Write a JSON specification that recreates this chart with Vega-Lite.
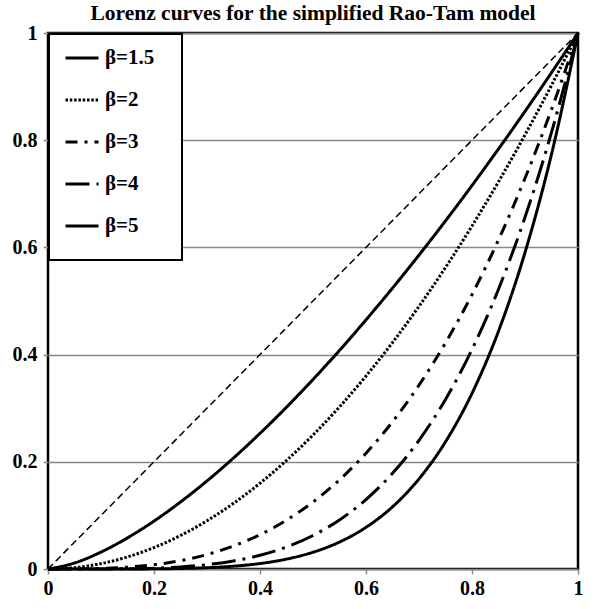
{
  "$schema": "https://vega.github.io/schema/vega-lite/v6.json",
  "width": 530,
  "height": 536,
  "autosize": {"type": "none"},
  "padding": {"left": 48, "top": 33, "right": 28, "bottom": 40},
  "background": "white",
  "title": {"text": "Lorenz curves for the simplified Rao-Tam model", "font": "Liberation Serif", "fontSize": 21.5, "fontWeight": "bold", "color": "black", "anchor": "middle", "offset": -1},
  "config": {
    "view": {"stroke": "black", "strokeWidth": 2.5},
    "axis": {"labelFont": "Liberation Serif", "labelFontSize": 20, "labelFontWeight": "bold", "labelColor": "black", "tickColor": "#888888", "tickSize": 5, "tickWidth": 1.5, "domain": false, "title": null, "labelFlush": false, "labelOverlap": false}
  },
  "datasets": {
    "diag": [{"p": 0, "L": 0}, {"p": 1, "L": 1}],
    "curves": [
      {"s": "β=1.5", "p": 0, "L": 0}, {"s": "β=1.5", "p": 0.05, "L": 0.0112}, {"s": "β=1.5", "p": 0.1, "L": 0.0316}, {"s": "β=1.5", "p": 0.15, "L": 0.0581}, {"s": "β=1.5", "p": 0.2, "L": 0.0894}, {"s": "β=1.5", "p": 0.25, "L": 0.125}, {"s": "β=1.5", "p": 0.3, "L": 0.1643}, {"s": "β=1.5", "p": 0.35, "L": 0.2071}, {"s": "β=1.5", "p": 0.4, "L": 0.253}, {"s": "β=1.5", "p": 0.45, "L": 0.3019}, {"s": "β=1.5", "p": 0.5, "L": 0.3536}, {"s": "β=1.5", "p": 0.55, "L": 0.4079}, {"s": "β=1.5", "p": 0.6, "L": 0.4648}, {"s": "β=1.5", "p": 0.65, "L": 0.5241}, {"s": "β=1.5", "p": 0.7, "L": 0.5857}, {"s": "β=1.5", "p": 0.75, "L": 0.6495}, {"s": "β=1.5", "p": 0.8, "L": 0.7155}, {"s": "β=1.5", "p": 0.85, "L": 0.7837}, {"s": "β=1.5", "p": 0.9, "L": 0.8538}, {"s": "β=1.5", "p": 0.95, "L": 0.926}, {"s": "β=1.5", "p": 1, "L": 1},
      {"s": "β=2", "p": 0, "L": 0}, {"s": "β=2", "p": 0.05, "L": 0.0025}, {"s": "β=2", "p": 0.1, "L": 0.01}, {"s": "β=2", "p": 0.15, "L": 0.0225}, {"s": "β=2", "p": 0.2, "L": 0.04}, {"s": "β=2", "p": 0.25, "L": 0.0625}, {"s": "β=2", "p": 0.3, "L": 0.09}, {"s": "β=2", "p": 0.35, "L": 0.1225}, {"s": "β=2", "p": 0.4, "L": 0.16}, {"s": "β=2", "p": 0.45, "L": 0.2025}, {"s": "β=2", "p": 0.5, "L": 0.25}, {"s": "β=2", "p": 0.55, "L": 0.3025}, {"s": "β=2", "p": 0.6, "L": 0.36}, {"s": "β=2", "p": 0.65, "L": 0.4225}, {"s": "β=2", "p": 0.7, "L": 0.49}, {"s": "β=2", "p": 0.75, "L": 0.5625}, {"s": "β=2", "p": 0.8, "L": 0.64}, {"s": "β=2", "p": 0.85, "L": 0.7225}, {"s": "β=2", "p": 0.9, "L": 0.81}, {"s": "β=2", "p": 0.95, "L": 0.9025}, {"s": "β=2", "p": 1, "L": 1},
      {"s": "β=3", "p": 0, "L": 0}, {"s": "β=3", "p": 0.05, "L": 0.0001}, {"s": "β=3", "p": 0.1, "L": 0.001}, {"s": "β=3", "p": 0.15, "L": 0.0034}, {"s": "β=3", "p": 0.2, "L": 0.008}, {"s": "β=3", "p": 0.25, "L": 0.0156}, {"s": "β=3", "p": 0.3, "L": 0.027}, {"s": "β=3", "p": 0.35, "L": 0.0429}, {"s": "β=3", "p": 0.4, "L": 0.064}, {"s": "β=3", "p": 0.45, "L": 0.0911}, {"s": "β=3", "p": 0.5, "L": 0.125}, {"s": "β=3", "p": 0.55, "L": 0.1664}, {"s": "β=3", "p": 0.6, "L": 0.216}, {"s": "β=3", "p": 0.65, "L": 0.2746}, {"s": "β=3", "p": 0.7, "L": 0.343}, {"s": "β=3", "p": 0.75, "L": 0.4219}, {"s": "β=3", "p": 0.8, "L": 0.512}, {"s": "β=3", "p": 0.85, "L": 0.6141}, {"s": "β=3", "p": 0.9, "L": 0.729}, {"s": "β=3", "p": 0.95, "L": 0.8574}, {"s": "β=3", "p": 1, "L": 1},
      {"s": "β=4", "p": 0, "L": 0}, {"s": "β=4", "p": 0.05, "L": 0}, {"s": "β=4", "p": 0.1, "L": 0.0001}, {"s": "β=4", "p": 0.15, "L": 0.0005}, {"s": "β=4", "p": 0.2, "L": 0.0016}, {"s": "β=4", "p": 0.25, "L": 0.0039}, {"s": "β=4", "p": 0.3, "L": 0.0081}, {"s": "β=4", "p": 0.35, "L": 0.015}, {"s": "β=4", "p": 0.4, "L": 0.0256}, {"s": "β=4", "p": 0.45, "L": 0.041}, {"s": "β=4", "p": 0.5, "L": 0.0625}, {"s": "β=4", "p": 0.55, "L": 0.0915}, {"s": "β=4", "p": 0.6, "L": 0.1296}, {"s": "β=4", "p": 0.65, "L": 0.1785}, {"s": "β=4", "p": 0.7, "L": 0.2401}, {"s": "β=4", "p": 0.75, "L": 0.3164}, {"s": "β=4", "p": 0.8, "L": 0.4096}, {"s": "β=4", "p": 0.85, "L": 0.522}, {"s": "β=4", "p": 0.9, "L": 0.6561}, {"s": "β=4", "p": 0.95, "L": 0.8145}, {"s": "β=4", "p": 1, "L": 1},
      {"s": "β=5", "p": 0, "L": 0}, {"s": "β=5", "p": 0.05, "L": 0}, {"s": "β=5", "p": 0.1, "L": 0}, {"s": "β=5", "p": 0.15, "L": 0.0001}, {"s": "β=5", "p": 0.2, "L": 0.0003}, {"s": "β=5", "p": 0.25, "L": 0.001}, {"s": "β=5", "p": 0.3, "L": 0.0024}, {"s": "β=5", "p": 0.35, "L": 0.0053}, {"s": "β=5", "p": 0.4, "L": 0.0102}, {"s": "β=5", "p": 0.45, "L": 0.0185}, {"s": "β=5", "p": 0.5, "L": 0.0313}, {"s": "β=5", "p": 0.55, "L": 0.0503}, {"s": "β=5", "p": 0.6, "L": 0.0778}, {"s": "β=5", "p": 0.65, "L": 0.116}, {"s": "β=5", "p": 0.7, "L": 0.1681}, {"s": "β=5", "p": 0.75, "L": 0.2373}, {"s": "β=5", "p": 0.8, "L": 0.3277}, {"s": "β=5", "p": 0.85, "L": 0.4437}, {"s": "β=5", "p": 0.9, "L": 0.5905}, {"s": "β=5", "p": 0.95, "L": 0.7738}, {"s": "β=5", "p": 1, "L": 1}
    ]
  },
  "encoding": {
    "x": {"field": "p", "type": "quantitative", "scale": {"domain": [0, 1], "nice": false}, "axis": {"values": [0, 0.2, 0.4, 0.6, 0.8, 1], "format": "~g", "grid": false, "labelPadding": 4}},
    "y": {"field": "L", "type": "quantitative", "scale": {"domain": [0, 1], "nice": false}, "axis": {"values": [0, 0.2, 0.4, 0.6, 0.8, 1], "format": "~g", "grid": true, "gridColor": "#888888", "gridWidth": 1.5, "labelPadding": 6}}
  },
  "layer": [
    {
      "data": {"name": "diag"},
      "mark": {"type": "line", "color": "black", "strokeWidth": 1.5, "strokeDash": [7, 4]}
    },
    {
      "data": {"name": "curves"},
      "mark": {"type": "line", "color": "black", "strokeWidth": 3, "interpolate": "monotone", "strokeCap": "butt"},
      "encoding": {
        "strokeDash": {
          "field": "s", "type": "nominal",
          "scale": {"domain": ["β=1.5", "β=2", "β=3", "β=4", "β=5"], "range": [[1, 0], [2.5, 1.8], [12, 7, 3, 7], [24, 7, 3, 7], [1, 0]]},
          "legend": {"title": "\u00a0", "titleOrient": "bottom", "titleFont": "Liberation Serif", "titleFontSize": 14, "titlePadding": 4,
            "labelExpr": "datum.label + '\u00a0\u00a0\u00a0\u00a0\u200b'",
            "orient": "top-left", "offset": 1, "strokeColor": "black", "fillColor": "white", "padding": 6, "rowPadding": 14, "labelFont": "Liberation Serif", "labelFontSize": 21, "labelFontWeight": "bold", "labelColor": "black", "labelOffset": 5, "symbolOffset": 9, "symbolType": "stroke", "symbolSize": 1089, "symbolStrokeWidth": 3, "symbolStrokeColor": "black",
            "encode": {"legend": {"update": {"strokeWidth": {"value": 2}}}}}
        }
      }
    }
  ]
}
